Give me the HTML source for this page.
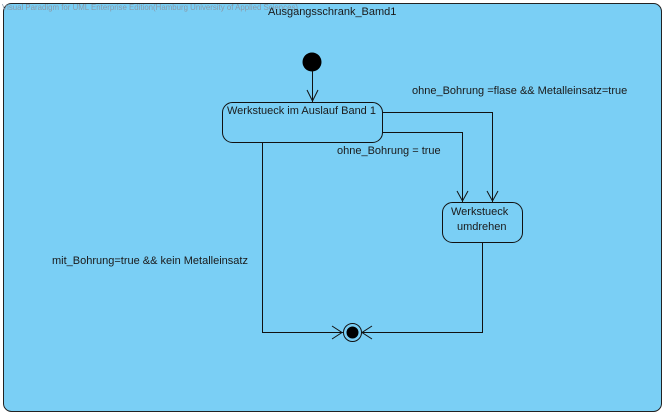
<!DOCTYPE html>
<html><head><meta charset="utf-8"><style>
html,body{margin:0;padding:0;background:#fff;width:666px;height:416px;overflow:hidden}
svg{display:block}
text{font-family:"Liberation Sans",Arial,sans-serif;font-size:11px;fill:#1a1a1a}
</style></head><body>
<svg width="666" height="416" viewBox="0 0 666 416">
<rect x="3.5" y="3.5" width="658" height="408" rx="8" fill="#7acff5" stroke="#222" stroke-width="1"/>
<text x="2" y="10" textLength="296" lengthAdjust="spacingAndGlyphs" style="font-size:8.5px;fill:#8a9aa8">Visual Paradigm for UML Enterprise Edition(Hamburg University of Applied Sciences)</text>
<text x="268" y="15">Ausgangsschrank_Bamd1</text>
<circle cx="312" cy="62" r="9.5" fill="#000"/>
<g stroke="#111" stroke-width="1" fill="none">
<line x1="312.5" y1="71" x2="312.5" y2="102"/>
<polyline points="307,90 312.5,101 318,90"/>
<rect x="222.5" y="102.5" width="160" height="40" rx="10" fill="#7acff5"/>
<polyline points="382.5,112.5 492.5,112.5 492.5,202"/>
<polyline points="487,191 492.5,201 498,191"/>
<polyline points="382.5,132.5 462.5,132.5 462.5,202"/>
<polyline points="457,191 462.5,201 468,191"/>
<rect x="442.5" y="202.5" width="80" height="40" rx="10" fill="#7acff5"/>
<polyline points="262.5,142.5 262.5,332.5 343,332.5"/>
<polyline points="332,326 342,332.5 332,339"/>
<polyline points="482.5,242.5 482.5,332.5 361,332.5"/>
<polyline points="372,326 362,332.5 372,339"/>
<circle cx="352.5" cy="332.5" r="9" fill="#7acff5"/>
</g>
<circle cx="352.5" cy="332.5" r="6" fill="#000"/>
<text x="227" y="114">Werkstueck im Auslauf Band 1</text>
<text x="451" y="215">Werkstueck</text>
<text x="457" y="230">umdrehen</text>
<text x="412" y="94">ohne_Bohrung =flase &amp;&amp; Metalleinsatz=true</text>
<text x="337" y="154">ohne_Bohrung = true</text>
<text x="52" y="264">mit_Bohrung=true &amp;&amp; kein Metalleinsatz</text>
</svg>
</body></html>
